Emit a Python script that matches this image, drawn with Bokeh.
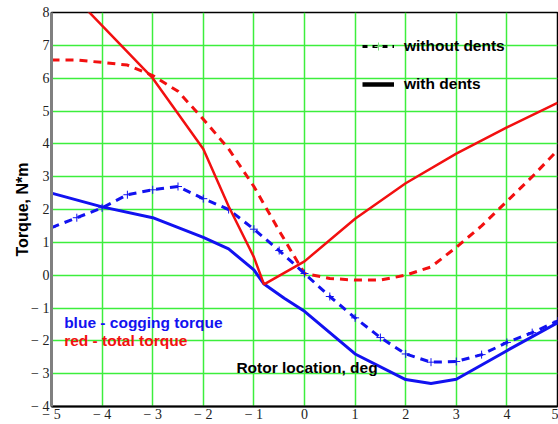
from bokeh.plotting import figure
from bokeh.models import Range1d, FixedTicker, Label, Legend, LegendItem
from bokeh.embed import file_html
from bokeh.resources import INLINE

# ---- data ----
red_with_x = [-5, -4, -3, -2, -1.5, -1, -0.8, 0, 1, 2, 3, 4, 5]
red_with_y = [9.2, 7.6, 6.0, 3.84, 2.1, 0.55, -0.28, 0.42, 1.72, 2.8, 3.7, 4.5, 5.25]

red_no_x = [-5, -4.5, -4, -3.5, -3, -2.5, -2, -1.5, -1, -0.5, 0, 0.5, 1, 1.5, 2, 2.5, 3, 3.5, 4, 4.5, 5]
red_no_y = [6.55, 6.55, 6.48, 6.4, 6.08, 5.6, 4.75, 3.85, 2.7, 1.35, 0.05, -0.1, -0.15, -0.15, 0.0, 0.25, 0.85, 1.5, 2.25, 3.0, 3.8]

blue_with_x = [-5, -4, -3, -2, -1.5, -1, -0.8, -0.4, 0, 1, 2, 2.5, 3, 4, 5]
blue_with_y = [2.5, 2.08, 1.75, 1.15, 0.8, 0.16, -0.27, -0.7, -1.1, -2.4, -3.18, -3.3, -3.17, -2.3, -1.45]

blue_no_x = [-5, -4.5, -4, -3.5, -3, -2.5, -2, -1.5, -1, -0.5, 0, 0.5, 1, 1.5, 2, 2.5, 3, 3.5, 4, 4.5, 5]
blue_no_y = [1.45, 1.75, 2.05, 2.45, 2.6, 2.7, 2.33, 2.0, 1.4, 0.75, 0.05, -0.65, -1.3, -1.9, -2.4, -2.65, -2.63, -2.42, -2.05, -1.75, -1.4]

x_ticks = [-5, -4, -3, -2, -1, 0, 1, 2, 3, 4, 5]
y_ticks = [-4, -3, -2, -1, 0, 1, 2, 3, 4, 5, 6, 7, 8]

NAN = [float("nan")]


def fmt(v):
    return ("\u2212 " + str(-v)) if v < 0 else str(v)


RED = "#f21010"
BLUE = "#1212f0"
GRID = "#3cee3c"
TXT = "15.5px"

p = figure(width=558, height=424, output_backend="svg", toolbar_location=None,
           x_range=Range1d(-5, 5), y_range=Range1d(-4, 8),
           min_border_left=51, min_border_right=1, min_border_top=12, min_border_bottom=0)
p.background_fill_color = "white"
p.border_fill_color = "white"
p.outline_line_color = "black"
p.outline_line_width = 1.5

for ax, ticks in ((p.xaxis[0], x_ticks), (p.yaxis[0], y_ticks)):
    ax.ticker = FixedTicker(ticks=ticks)
    ax.major_label_overrides = {t: fmt(t) for t in ticks}
    ax.major_tick_in = 0
    ax.major_tick_out = 0
    ax.minor_tick_in = 0
    ax.minor_tick_out = 0
    ax.major_label_text_font = "Liberation Serif"
    ax.major_label_text_font_size = "14px"
    ax.major_label_text_color = "#222222"

p.xaxis.major_label_standoff = 0
p.xaxis.axis_line_color = "black"
p.xaxis.axis_line_width = 2
p.yaxis.major_label_standoff = 2
p.yaxis.axis_line_color = "#808080"
p.yaxis.axis_line_width = 3
p.yaxis.axis_label = "Torque, N*m"
p.yaxis.axis_label_text_font = "Liberation Sans"
p.yaxis.axis_label_text_font_style = "bold"
p.yaxis.axis_label_text_font_size = "16px"
p.yaxis.axis_label_text_color = "black"
p.yaxis.axis_label_standoff = -3

p.xgrid.ticker = FixedTicker(ticks=x_ticks)
p.ygrid.ticker = FixedTicker(ticks=y_ticks)
p.grid.grid_line_color = GRID
p.grid.grid_line_width = 1.5
p.grid.grid_line_alpha = 1.0

# ---- curves ----
p.line(red_no_x, red_no_y, line_color=RED, line_width=3, line_dash="8 6")
p.line(blue_no_x, blue_no_y, line_color=BLUE, line_width=3, line_dash="8 6")
p.scatter(blue_no_x, blue_no_y, marker="cross", size=8, line_color=BLUE, line_width=1)
p.line(blue_with_x, blue_with_y, line_color=BLUE, line_width=3)
p.line(red_with_x, red_with_y, line_color=RED, line_width=2.5)

# ---- legend (style key, renderers hold no visible data) ----
r_dash = p.line(x=NAN, y=NAN, line_color="black", line_width=3, line_dash="5 5")
r_dash_m = p.scatter(x=NAN, y=NAN, marker="cross", line_color="#77dd77", line_width=1)
r_solid = p.line(x=NAN, y=NAN, line_color="black", line_width=4.5)
legend = Legend(items=[LegendItem(label="without dents", renderers=[r_dash, r_dash_m]),
                       LegendItem(label="with dents", renderers=[r_solid])],
                location=(311, 312), orientation="vertical",
                glyph_width=32, glyph_height=20, label_height=20, label_standoff=10,
                spacing=18, padding=0, margin=0,
                border_line_alpha=0, background_fill_alpha=0,
                label_text_font="Liberation Sans", label_text_font_style="bold",
                label_text_font_size=TXT, label_text_color="black")
p.add_layout(legend, "center")

# ---- text annotations ----
p.add_layout(Label(x=-4.75, y=-1.45, text="blue - cogging torque", text_color=BLUE,
                   text_font="Liberation Sans", text_font_style="bold", text_font_size=TXT,
                   text_baseline="middle", text_align="left"))
p.add_layout(Label(x=-4.75, y=-2.0, text="red - total torque", text_color=RED,
                   text_font="Liberation Sans", text_font_style="bold", text_font_size=TXT,
                   text_baseline="middle", text_align="left"))
p.add_layout(Label(x=0.05, y=-2.8, text="Rotor location, deg", text_color="black",
                   text_font="Liberation Sans", text_font_style="bold", text_font_size=TXT,
                   text_baseline="middle", text_align="center"))

open("out.html", "w").write(file_html(p, INLINE))
